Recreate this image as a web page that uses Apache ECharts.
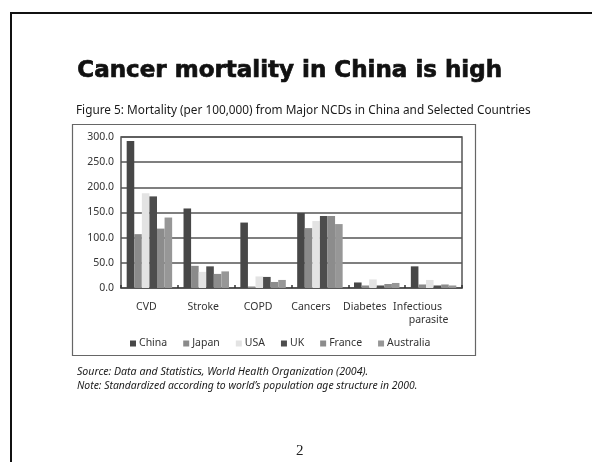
<!DOCTYPE html>
<html>
<head>
<meta charset="utf-8">
<script src="https://cdn.jsdelivr.net/npm/echarts@6/dist/echarts.min.js"></script>
<style>
  html, body { margin: 0; padding: 0; background: #fff; }
  #chart { width: 592px; height: 462px; }
</style>
</head>
<body>
<div id="chart"></div>
<script>
// Mortality per 100,000 by cause of death
const categories = ['CVD', 'Stroke', 'COPD', 'Cancers', 'Diabetes', 'Infectious\nparasite'];
const countries = ['China', 'Japan', 'USA', 'UK', 'France', 'Australia'];

const china     = [292, 158, 130, 149, 11, 43];
const japan     = [107, 44, 3, 119, 5, 7];
const usa       = [188, 32, 23, 133, 17, 16];
const uk        = [182, 43, 22, 143, 5, 5];
const france    = [118, 28, 12, 143, 8, 7];
const australia = [140, 33, 16, 127, 10, 5];

const yTicks = [0, 50, 100, 150, 200, 250, 300];

const slideTitle = 'Cancer mortality in China is high';
const figureCaption = 'Figure 5: Mortality (per 100,000) from Major NCDs in China and Selected Countries';
const sourceNote = 'Source: Data and Statistics, World Health Organization (2004).';
const standardNote = 'Note: Standardized according to world\u2019s population age structure in 2000.';
const pageNumber = '2';

const seriesValues = [china, japan, usa, uk, france, australia];
const barColors = ['#474747', '#8a8a8a', '#e3e3e3', '#4d4d4d', '#8c8c8c', '#979797'];

const chartFont = '"Noto Sans", "Open Sans", sans-serif';

// right padding nudges each category label a little to the left
const labelPadRight = [6, 6, 10, 18, 24];
const labelRich = {
  a: { fontSize: 10.5, color: '#333', fontFamily: chartFont, padding: [0, 32, 0, 0] },
  b: { fontSize: 10.5, color: '#333', fontFamily: chartFont, padding: [0, 10, 0, 0] }
};
labelPadRight.forEach(function (p, i) {
  labelRich['p' + i] = { fontSize: 10.5, color: '#333', fontFamily: chartFont, padding: [0, p, 0, 0] };
});

const chart = echarts.init(document.getElementById('chart'), null, { renderer: 'canvas' });

chart.setOption({
  backgroundColor: '#fff',
  animation: false,
  textStyle: { fontFamily: chartFont },
  grid: {
    left: 121, top: 137, width: 341, height: 151,
    show: true, borderColor: '#555', borderWidth: 1.5, backgroundColor: 'transparent'
  },
  legend: {
    data: countries,
    left: 125, top: 333,
    icon: 'rect', itemWidth: 6, itemHeight: 6, itemGap: 16,
    textStyle: { fontSize: 10.5, color: '#333', fontFamily: chartFont, padding: [0, 0, 0, -2] }
  },
  xAxis: {
    type: 'category',
    data: categories,
    axisLine: { show: true, lineStyle: { color: '#555', width: 1.5 } },
    axisTick: { show: true, inside: true, length: 3, lineStyle: { color: '#333', width: 1.5 } },
    axisLabel: {
      margin: 13, fontSize: 10.5, color: '#333', lineHeight: 13, interval: 0,
      formatter: function (v, idx) {
        if (v.indexOf('\n') >= 0) {
          const parts = v.split('\n');
          return '{a|' + parts[0] + '}\n{b|' + parts[1] + '}';
        }
        return '{p' + idx + '|' + v + '}';
      },
      rich: labelRich
    }
  },
  yAxis: {
    type: 'value',
    min: yTicks[0], max: yTicks[yTicks.length - 1], interval: 50,
    axisLine: { show: false },
    axisTick: { show: false },
    splitLine: { show: true, lineStyle: { color: '#555', width: 1.5 } },
    axisLabel: {
      margin: 7, fontSize: 10.5, color: '#333',
      formatter: function (v) { return v.toFixed(1); }
    }
  },
  series: countries.map(function (name, i) {
    return {
      name: name,
      type: 'bar',
      data: seriesValues[i],
      barGap: '0%',
      barCategoryGap: '20%',
      itemStyle: { color: barColors[i] }
    };
  }),
  graphic: [
    // slide frame
    { type: 'line', shape: { x1: 10, y1: 13, x2: 592, y2: 13 }, style: { stroke: '#111', lineWidth: 2 } },
    { type: 'line', shape: { x1: 11, y1: 12, x2: 11, y2: 462 }, style: { stroke: '#111', lineWidth: 2 } },
    // slide heading
    {
      type: 'text', left: 77, top: 59,
      style: {
        text: slideTitle, font: 'bold 23px "DejaVu Sans", sans-serif',
        fill: '#111', stroke: '#111', lineWidth: 0.7
      }
    },
    // figure caption
    {
      type: 'text', left: 76, top: 105,
      style: { text: figureCaption, font: '11.8px ' + chartFont, fill: '#1a1a1a' }
    },
    // chart box
    {
      type: 'rect', shape: { x: 72.5, y: 124.5, width: 403, height: 231 },
      style: { fill: 'none', stroke: '#666', lineWidth: 1.2 }, z: -1
    },
    // source and note
    {
      type: 'text', left: 77, top: 366,
      style: { text: sourceNote, font: 'italic 10.6px ' + chartFont, fill: '#1a1a1a' }
    },
    {
      type: 'text', left: 77, top: 381,
      style: { text: standardNote, font: 'italic 10.4px ' + chartFont, fill: '#1a1a1a' }
    },
    // page number
    {
      type: 'text', left: 296, top: 444,
      style: { text: pageNumber, font: '15px "Liberation Serif", "DejaVu Serif", serif', fill: '#222' }
    }
  ]
});
</script>
</body>
</html>
